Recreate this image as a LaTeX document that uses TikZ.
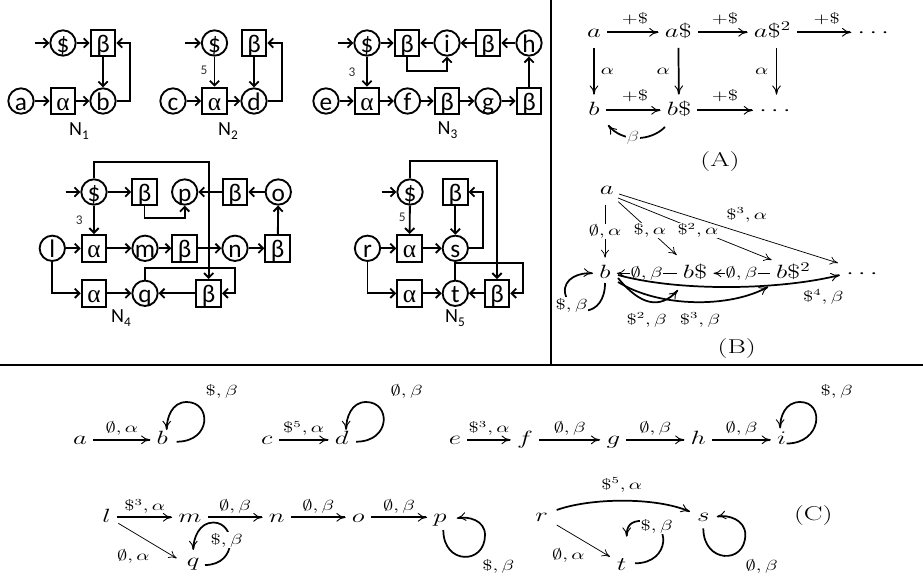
\documentclass[tikz,border=0pt]{standalone}
\usepackage{fontspec}
\usepackage{amssymb}
\usetikzlibrary{arrows.meta}
\newfontfamily\carl{Carlito}
\newfontfamily\tms{Liberation Serif}
\newcommand\mx[1]{\scalebox{1.4}[1]{$#1$}}
\newcommand\tx[1]{\scalebox{1.4}[1]{#1}}
\newcommand\subn[1]{\raisebox{-0.35ex}{\fontsize{10}{10}\selectfont #1}}
\begin{document}
\begin{tikzpicture}[x=0.75pt,y=-0.75pt,
 cn/.style={circle, draw, line width=1.4pt, minimum size=19pt, inner sep=-4pt, text height=13.5pt, text depth=0pt, font=\carl\fontsize{19}{19}\selectfont},
 sq/.style={rectangle, draw, line width=1.4pt, minimum width=18.5pt, minimum height=20pt, inner sep=0pt, text height=13.5pt, text depth=0pt, font=\carl\fontsize{19}{19}\selectfont},
 ea/.style={line width=1.4pt, -{Straight Barb[length=3.5pt,width=7pt]}},
 nl/.style={font=\carl\fontsize{15}{15}\selectfont},
 wl/.style={font=\carl\fontsize{10}{10}\selectfont, text=black!80},
 mn/.style={anchor=base, inner sep=4.5pt, text height=10.5pt, text depth=3.5pt, font=\fontsize{14}{14}\selectfont},
 ml/.style={font=\fontsize{15}{15}\selectfont},
 tk/.style={line width=1.3pt, -{To[length=7pt,width=6.5pt,line width=0.7pt]}},
 tm/.style={line width=0.9pt, -{To[length=6pt,width=6pt,line width=0.6pt]}},
 tn/.style={line width=0.55pt, -{To[length=6pt,width=6pt,line width=0.55pt]}},
 lb/.style={inner sep=0.5pt, font=\fontsize{10.5}{10.5}\selectfont},
 wb/.style={lb, fill=white},
]
\useasboundingbox (0,0) rectangle (923,578);

% ---------- separators
\draw[line width=1.5pt] (551,0) -- (551,365);
\draw[line width=2pt] (0,365) -- (923,365);

% ---------- N1
\node[cn] (s1) at (63,43) {\$};
\node[sq] (bt1) at (103,43) {β};
\node[cn] (a1) at (21,101) {a};
\node[sq] (al1) at (63,101) {\tms α};
\node[cn] (b1) at (103,101) {b};
\coordinate (in1) at (35,43);
\draw[ea] (in1) -- (s1);
\draw[ea] (s1) -- (bt1);
\draw[ea] (bt1) -- (b1);
\draw[ea] (a1) -- (al1);
\draw[ea] (al1) -- (b1);
\draw[ea] (b1.east) -- ++(13,0) |- (bt1.east);
\node[nl] (N1) at (79,131) {N\subn{1}};

% ---------- N2
\node[cn] (s2) at (214.5,43) {\$};
\node[sq] (bt2) at (254,43) {β};
\node[cn] (c2) at (173,101) {c};
\node[sq] (al2) at (214.5,101) {\tms α};
\node[cn] (d2) at (254,101) {d};
\coordinate (in2) at (185,43);
\draw[ea] (in2) -- (s2);
\draw[ea] (s2) -- (al2);
\node[wl] (w2) at (204,70) {5};
\draw[ea] (bt2) -- (d2);
\draw[ea] (c2) -- (al2);
\draw[ea] (al2) -- (d2);
\draw[ea] (d2.east) -- ++(14,0) |- (bt2.east);
\node[nl] (N2) at (228,131) {N\subn{2}};

% ---------- N3
\node[cn] (s3) at (367,43) {\$};
\node[sq] (bt3) at (407,43) {β};
\node[cn] (i3) at (447,43) {i};
\node[sq] (bu3) at (488,43) {β};
\node[cn] (h3) at (529,43) {h};
\node[cn] (e3) at (326,101) {e};
\node[sq] (al3) at (367,101) {\tms α};
\node[cn] (f3) at (407.5,101) {f};
\node[sq] (bv3) at (447,101) {β};
\node[cn] (g3) at (488,101) {g};
\node[sq] (bw3) at (529,101) {β};
\coordinate (in3) at (338,43);
\draw[ea] (in3) -- (s3);
\draw[ea] (s3) -- (bt3);
\draw[ea] (i3) -- (bt3);
\draw[ea] (bu3) -- (i3);
\draw[ea] (h3) -- (bu3);
\draw[ea] (bt3.south) -- ++(0,14) -| (i3.south);
\draw[ea] (s3) -- (al3);
\node[wl] (w3) at (352,72.7) {3};
\draw[ea] (e3) -- (al3);
\draw[ea] (al3) -- (f3);
\draw[ea] (f3) -- (bv3);
\draw[ea] (bv3) -- (g3);
\draw[ea] (g3) -- (bw3);
\draw[ea] (bw3) -- (h3);
\node[nl] (N3) at (447.5,130) {N\subn{3}};

% ---------- N4
\node[cn] (s4) at (94,192) {\$};
\node[sq] (bt4) at (144.5,192) {β};
\node[cn] (p4) at (184.7,192) {p};
\node[sq] (bu4) at (235,192) {β};
\node[cn] (o4) at (278.3,192) {o};
\node[cn] (l4) at (52.3,248.3) {l};
\node[sq] (al4) at (94,248.3) {\tms α};
\node[cn] (m4) at (145,248.3) {m};
\node[sq] (bv4) at (184.7,248.3) {β};
\node[cn] (n4) at (235,248.3) {n};
\node[sq] (bw4) at (277.7,248.3) {β};
\node[sq] (am4) at (94,293.3) {\tms α};
\node[cn] (q4) at (145,293.3) {q};
\node[sq] (bx4) at (208.7,293.3) {β};
\coordinate (in4) at (65.7,192);
\draw[ea] (in4) -- (s4);
\draw[ea] (s4) -- (bt4);
\draw[ea] (bt4.south) -- ++(0,12) -| (p4.south);
\draw[ea] (bu4) -- (p4);
\draw[ea] (o4) -- (bu4);
\draw[ea] (bw4) -- (o4);
\draw[ea] (s4) -- (al4);
\node[wl] (w4) at (79.3,220) {3};
\draw[ea] (l4) -- (al4);
\draw[ea] (al4) -- (m4);
\draw[ea] (m4) -- (bv4);
\draw[ea] (bv4) -- (n4);
\draw[ea] (n4) -- (bw4);
\draw[ea] (l4.south) |- (am4.west);
\draw[ea] (am4) -- (q4);
\draw[ea] (bx4) -- (q4);
\draw[ea] (q4.north) -- ++(0,-12) -- ++(90,0) |- (bx4.east);
\draw[ea] (s4.north) -- ++(0,-16) -| (bx4.north);
\node[nl] (N4) at (121,318) {N\subn{4}};

% ---------- N5
\node[cn] (s5) at (410,192) {\$};
\node[sq] (bt5) at (455.3,192) {β};
\node[cn] (r5) at (367.5,248.3) {r};
\node[sq] (al5) at (409.5,248.3) {\tms α};
\node[cn] (sb5) at (455.3,248.3) {s};
\node[sq] (am5) at (409.5,293.3) {\tms α};
\node[cn] (t5) at (455.3,293.3) {t};
\node[sq] (bx5) at (497,293.3) {β};
\coordinate (in5) at (381.7,192);
\draw[ea] (in5) -- (s5);
\draw[ea] (s5) -- (al5);
\node[wl] (w5) at (402.3,217.3) {5};
\draw[ea] (bt5) -- (sb5);
\draw[ea] (sb5.east) -- ++(14,0) |- (bt5.east);
\draw[ea] (r5) -- (al5);
\draw[ea] (al5) -- (sb5);
\draw[ea] (r5.south) |- (am5.west);
\draw[ea] (am5) -- (t5);
\draw[ea] (bx5) -- (t5);
\draw[ea] (t5.north) -- ++(0,-17) -- ++(68,0) |- (bx5.east);
\draw[ea] (s5.north) -- ++(0,-17) -| (bx5.north);
\node[nl] (N5) at (455,318) {N\subn{5}};

% ---------- (A)
\node[mn] (Aa) at (594,37) {\mx{a}};
\node[mn] (AaS) at (678.3,37) {\mx{a\$}};
\node[mn] (AaS2) at (772.5,37) {\mx{a\$^2}};
\node[mn] (AaD) at (873.3,37) {\mx{\cdots}};
\node[mn] (Ab) at (594,115) {\mx{b}};
\node[mn] (AbS) at (679,115) {\mx{b\$}};
\node[mn] (AbD) at (775,115) {\mx{\cdots}};
\draw[tk] (Aa) -- (AaS);
\draw[tk] (AaS) -- (AaS2);
\draw[tk] (AaS2) -- (AaD);
\draw[tk] (Ab) -- (AbS);
\draw[tk] (AbS) -- (AbD);
\draw[tk] (Aa) -- (Ab);
\draw[tk] (AaS) -- (AbS);
\draw[tk] ([xshift=3pt]AaS2.south) -- ([xshift=3pt]AaS2.south |- AbD.north);
\node[lb] (Al1) at (635,19) {\mx{+\$}};
\node[lb] (Al2) at (725,19) {\mx{+\$}};
\node[lb] (Al3) at (826.7,19) {\mx{+\$}};
\node[lb] (Al4) at (635,96) {\mx{+\$}};
\node[lb] (Al5) at (725,96) {\mx{+\$}};
\node[lb] (Al6) at (607.5,71.7) {\mx{\alpha}};
\node[lb] (Al7) at (663.3,71.7) {\mx{\alpha}};
\node[lb] (Al8) at (761.7,71.7) {\mx{\alpha}};
\draw[tk] ([shift={(-14,12)}]AbS.base) .. controls +(-15,15) and +(14,17) .. ([shift={(14,10)}]Ab.base);
\node[wb, text=black!60] (Al9) at (633,138) {\mx{\beta}};
\node[ml] (Alab) at (720,161.7) {\tx{(A)}};

% ---------- (B)
\node[mn] (Ba) at (606.7,194) {\mx{a}};
\node[mn] (Bb) at (605,278) {\mx{b}};
\node[mn] (BbS) at (695,278) {\mx{b\$}};
\node[mn] (BbS2) at (793.3,278) {\mx{b\$^2}};
\node[mn] (BD) at (862,278) {\mx{\cdots}};
\draw[tn] (Ba.south -| Bb) -- (Bb.north) node[wb, midway] {\mx{\emptyset,\alpha}};
\draw[tn] ([shift={(11.6,7.7)}]Ba.base) -- ([shift={(-18.3,-23)}]BbS.base) node[wb, pos=0.54] {\mx{\$,\alpha}};
\draw[tn] ([shift={(11.3,4)}]Ba.base) -- ([shift={(-21.6,-18)}]BbS2.base) node[wb, pos=0.52] {\mx{\$^2,\alpha}};
\draw[tn] ([shift={(12.3,0)}]Ba.base) -- ([shift={(-24,-15)}]BD.base);
\node[lb] (Bl1) at (746.7,215) {\mx{\$^3,\alpha}};
\draw[tm] (BbS) -- (Bb) node[wb, midway] {\mx{\emptyset,\beta}};
\draw[tm] (BbS2) -- (BbS) node[wb, midway] {\mx{\emptyset,\beta}};
\draw[tk] ([shift={(0,5)}]Bb.base) .. controls +(0,35) and +(5,25) .. ([shift={(-40,15)}]Bb.base) .. controls +(-2,-15) and +(-13,-1) .. ([shift={(-12,-4.7)}]Bb.base);
\node[wb] (Bl2) at (571.7,305) {\mx{\$,\beta}};
\draw[tk] ([shift={(13,0)}]Bb.base) .. controls +(22,27) and +(-18,20) .. ([shift={(-17,12)}]BbS.base);
\draw[tk] ([shift={(13,4)}]Bb.base) .. controls +(42,26) and +(-38.3,21.3) .. ([shift={(-25,8.7)}]BbS2.base);
\draw[tk] ([shift={(13,-3)}]Bb.base) .. controls +(62,17) and +(-60,15) .. ([shift={(-22,-3)}]BD.base);
\node[lb] (Bl3) at (646.7,320) {\mx{\$^2,\beta}};
\node[lb] (Bl4) at (700,320) {\mx{\$^3,\beta}};
\node[lb] (Bl5) at (823.3,297) {\mx{\$^4,\beta}};
\node[ml] (Blab) at (736.7,348.3) {\tx{(B)}};

% ---------- (C) row 1
\node[mn] (Ca) at (80,444.5) {\mx{a}};
\node[mn] (Cb) at (162.3,444.5) {\mx{b}};
\node[mn] (Cc) at (266.7,444.5) {\mx{c}};
\node[mn] (Cd) at (341.7,444.5) {\mx{d}};
\node[mn] (Ce) at (455,444.5) {\mx{e}};
\node[mn] (Cf) at (525,444.5) {\mx{f}};
\node[mn] (Cg) at (613.3,444.5) {\mx{g}};
\node[mn] (Ch) at (698.3,444.5) {\mx{h}};
\node[mn] (Ci) at (781.7,444.5) {\mx{i}};
\draw[tk] (Ca) -- (Cb) node[lb, midway, above=2pt] {\mx{\emptyset,\alpha}};
\draw[tk] (Cc) -- (Cd) node[lb, midway, above=2pt] {\mx{\$^5,\alpha}};
\draw[tk] (Ce) -- (Cf) node[lb, midway, above=2pt] {\mx{\$^3,\alpha}};
\draw[tk] (Cf) -- (Cg) node[lb, midway, above=2pt] {\mx{\emptyset,\beta}};
\draw[tk] (Cg) -- (Ch) node[lb, midway, above=2pt] {\mx{\emptyset,\beta}};
\draw[tk] (Ch) -- (Ci) node[lb, midway, above=2pt] {\mx{\emptyset,\beta}};
\draw[tk] ([shift={(14.4,-2.8)}]Cb.base) .. controls +(35,0) and +(25,0) .. ([shift={(24.4,-42.5)}]Cb.base) .. controls +(-15,0) and +(0,-12) .. ([shift={(4.4,-14.5)}]Cb.base);
\node[lb] (Cl1) at (221.7,391.7) {\mx{\$,\beta}};
\draw[tk] ([shift={(14.4,-2.8)}]Cd.base) .. controls +(35,0) and +(25,0) .. ([shift={(24.4,-42.5)}]Cd.base) .. controls +(-15,0) and +(0,-12) .. ([shift={(4.4,-14.5)}]Cd.base);
\node[lb] (Cl2) at (406.7,391.7) {\mx{\emptyset,\beta}};
\draw[tk] ([shift={(5,-1)}]Ci.base) .. controls +(35,0) and +(25,0) .. ([shift={(18.4,-42.5)}]Ci.base) .. controls +(-15,0) and +(0,-12) .. ([shift={(-1.6,-16)}]Ci.base);
\node[lb] (Cl3) at (836.7,391.7) {\mx{\$,\beta}};

% ---------- (C) row 2
\node[mn] (Cl) at (106.7,522) {\mx{l}};
\node[mn] (Cm) at (190,522) {\mx{m}};
\node[mn] (Cn) at (276.7,522) {\mx{n}};
\node[mn] (Co) at (358.3,522) {\mx{o}};
\node[mn] (Cp) at (440,522) {\mx{p}};
\node[mn] (Cq) at (193.3,566.5) {\mx{q}};
\node[mn] (Cr) at (541.7,521.7) {\mx{r}};
\node[mn] (Cs) at (703.3,521.7) {\mx{s}};
\node[mn] (Ct) at (621.7,570) {\mx{t}};
\node[ml] (Clab) at (813.3,515) {\tx{(C)}};
\draw[tk] (Cl) -- (Cm) node[lb, midway, above=2pt] {\mx{\$^3,\alpha}};
\draw[tk] (Cm) -- (Cn) node[lb, midway, above=2pt] {\mx{\emptyset,\beta}};
\draw[tk] (Cn) -- (Co) node[lb, midway, above=2pt] {\mx{\emptyset,\beta}};
\draw[tk] (Co) -- (Cp) node[lb, midway, above=2pt] {\mx{\emptyset,\beta}};
\draw[tn] ([shift={(11.6,1.3)}]Cl.base) -- ([shift={(-16.6,-8.2)}]Cq.base);
\node[lb] (Cl4) at (133.3,556.7) {\mx{\emptyset,\alpha}};
\draw[tk] ([shift={(11.7,-1.5)}]Cq.base) .. controls +(33,0) and +(23,0) .. ([shift={(20,-44)}]Cq.base) .. controls +(-14,0) and +(0,-12) .. ([shift={(0,-16.5)}]Cq.base);
\node[wb] (Cl5) at (226.7,540) {\mx{\$,\beta}};
\draw[tk] ([shift={(3.3,8)}]Cp.base) .. controls +(0,35) and +(0,30) .. ([shift={(45,13)}]Cp.base) .. controls +(0,-15) and +(11.3,-2.3) .. ([shift={(16.7,-3.7)}]Cp.base);
\node[lb] (Cl6) at (498.3,566.7) {\mx{\$,\beta}};
\draw[tk] ([shift={(0,6.6)}]Cs.base) .. controls +(0,35) and +(0,30) .. ([shift={(42,13)}]Cs.base) .. controls +(0,-15) and +(11.3,-2.3) .. ([shift={(13.4,-5)}]Cs.base);
\node[lb] (Cl7) at (761.7,566.7) {\mx{\emptyset,\beta}};
\draw[tk] ([shift={(15,-11.7)}]Cr.base) .. controls +(33,-12) and +(-35,-15) .. ([shift={(-13.3,-10)}]Cs.base);
\node[lb] (Cl8) at (621.7,485) {\mx{\$^5,\alpha}};
\draw[tn] ([shift={(15,3.3)}]Cr.base) -- ([shift={(-11.7,-13.3)}]Ct.base);
\node[lb] (Cl9) at (568.3,555) {\mx{\emptyset,\alpha}};
\draw[tk] ([shift={(13.3,-6.7)}]Ct.base) .. controls +(36,0) and +(28,0) .. ([shift={(21.6,-49.3)}]Ct.base) .. controls +(-14,0) and +(0,-10) .. ([shift={(5,-33.3)}]Ct.base);
\node[wb] (Cl10) at (656.7,526.7) {\mx{\$,\beta}};
\end{tikzpicture}
\end{document}
